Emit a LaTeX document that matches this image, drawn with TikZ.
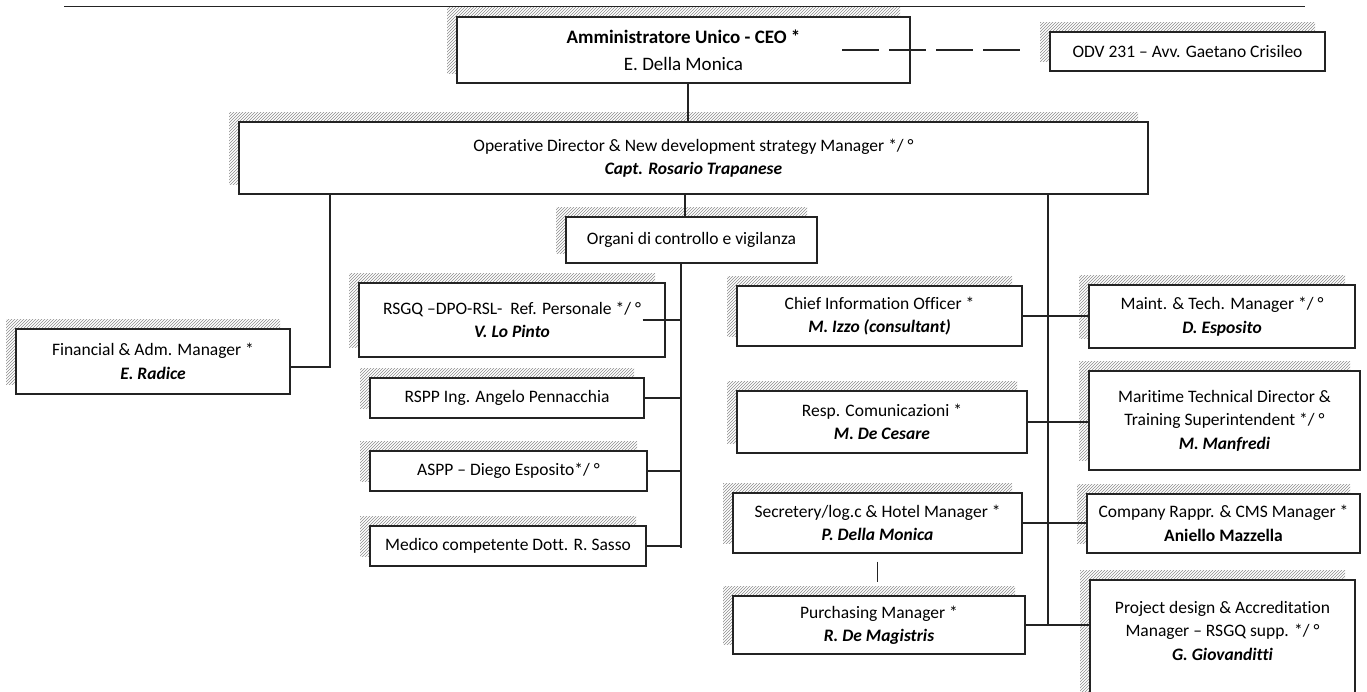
\documentclass[tikz,border=0pt]{standalone}
\usepackage{fontspec}
\setmainfont{Carlito}[Ligatures=NoCommon]
\usepackage{tikz}
\usetikzlibrary{calc}
\usetikzlibrary{patterns}
\usetikzlibrary{shadows}
\definecolor{hatchgray}{RGB}{140,140,140}
\definecolor{inkblack}{RGB}{35,35,35}

\tikzset{
  orgbox/.style={draw=inkblack, fill=white, line width=1.2pt, align=center, inner sep=0pt,
    font=\fontsize{17.5}{23.5}\selectfont,
    general shadow={shadow xshift=-10pt, shadow yshift=10pt, pattern=north east lines, pattern color=hatchgray}},
  link/.style={draw=inkblack, line width=1.2pt}
}

\begin{document}
\begin{tikzpicture}[x=1pt, y=-1pt]
            \useasboundingbox (0,0) rectangle (1367,691);
            \clip (0,0) rectangle (1367,691);
            \draw[link, line width=1pt] (64,6) -- (1305,6);
            % top
            \node[orgbox, minimum width=453pt, minimum height=66pt, font=\fontsize{19}{27}\selectfont] (ceo) at (683.5,50)
                 {\textbf{Amministratore Unico - CEO *}\\E. Della Monica};
            \node[orgbox, minimum width=275pt, minimum height=39pt] (odv) at (1187.5,51.5)
                 {ODV 231 – Avv. Gaetano Crisileo};
            \node[orgbox, minimum width=909pt, minimum height=72pt] (opdir) at (693.5,158)
                 {Operative Director \& New development strategy Manager */ °\\\textbf{\textit{Capt. Rosario Trapanese}}};
            \node[orgbox, minimum width=251pt, minimum height=46pt] (organi) at (691.5,240)
                 {Organi di controllo e vigilanza};
            \node[orgbox, minimum width=274pt, minimum height=65pt] (finance) at (153,361.5)
                 {Financial \& Adm. Manager *\\\textbf{\textit{E. Radice}}};
            % controllo e vigilanza
            \node[orgbox, minimum width=306pt, minimum height=74pt] (rsgq) at (512,320)
                 {RSGQ –DPO-RSL-~ Ref. Personale */ °\\\textbf{\textit{V. Lo Pinto}}};
            \node[orgbox, minimum width=274pt, minimum height=40pt] (rspp) at (507,398)
                 {RSPP Ing. Angelo Pennacchia};
            \node[orgbox, minimum width=277pt, minimum height=40pt] (aspp) at (508.5,471)
                 {ASPP – Diego Esposito*/ °};
            \node[orgbox, minimum width=276pt, minimum height=40pt] (medico) at (508,546)
                 {Medico competente Dott. R. Sasso};
            % middle column
            \node[orgbox, minimum width=285pt, minimum height=60pt] (cio) at (879.5,316)
                 {Chief Information Officer *\\\textbf{\textit{M. Izzo (consultant)}}};
            \node[orgbox, minimum width=290pt, minimum height=62pt] (resp) at (882,422)
                 {Resp. Comunicazioni *\\\textbf{\textit{M. De Cesare}}};
            \node[orgbox, minimum width=289pt, minimum height=60pt] (secr) at (877.5,523)
                 {Secretery/log.c \& Hotel Manager *\\\textbf{\textit{P. Della Monica}}};
            \node[orgbox, minimum width=292pt, minimum height=58pt] (purch) at (879,625)
                 {Purchasing Manager *\\\textbf{\textit{R. De Magistris}}};
            % right column
            \node[orgbox, minimum width=266pt, minimum height=63pt] (maint) at (1222,316.5)
                 {Maint. \& Tech. Manager */ °\\\textbf{\textit{D. Esposito}}};
            \node[orgbox, minimum width=271pt, minimum height=99pt] (maritime) at (1224.5,420.5)
                 {Maritime Technical Director \&\\Training Superintendent */ °\\\textbf{\textit{M. Manfredi}}};
            \node[orgbox, minimum width=273pt, minimum height=59pt] (company) at (1223.5,523.5)
                 {Company Rappr. \& CMS Manager *\\\textbf{Aniello Mazzella}};
            \node[orgbox, minimum width=265pt, minimum height=125pt] (project) at (1222.5,642.5)
                 {Project design \& Accreditation\\Manager – RSGQ supp. */ °\\\textbf{\textit{G. Giovanditti}}\\[0pt]};
            % links
            \coordinate (odvlink) at (842,50);
            \draw[link, dash pattern=on 37pt off 10pt, shorten >=25pt] (odvlink) -- (odvlink -| odv.west);
            \draw[link] ([xshift=4.5pt]ceo.south) -- ([xshift=4.5pt]ceo.south |- opdir.north);
            \coordinate (fbend) at (330,367);
            \draw[link] (fbend |- opdir.south) -- (fbend) -- (fbend -| finance.east);
            \draw[link] ([xshift=-6.5pt]organi.north) -- ([xshift=-6.5pt]organi.north |- opdir.south);
            \draw[link] ([xshift=-10.5pt]organi.south) -- ++(0,284) coordinate (obus);
            \draw[link] ([xshift=-23pt]rsgq.east) -- (rsgq.east -| obus);
            \foreach \n in {rspp,aspp,medico}
                 \draw[link] (\n.east) -- (\n.east -| obus);
            \coordinate (rbus) at (1048,625);
            \draw[link] (rbus |- opdir.south) -- (rbus);
            \draw[link] (cio.east) -- (cio.east -| maint.west);
            \draw[link] (resp.east) -- (resp.east -| maritime.west);
            \draw[link] (secr.east) -- (secr.east -| company.west);
            \draw[link] (purch.east) -- (purch.east -| project.west);
            \draw[link, shorten <=8pt, shorten >=13pt] (secr.south) -- (secr.south |- purch.north);
\end{tikzpicture}
\end{document}
